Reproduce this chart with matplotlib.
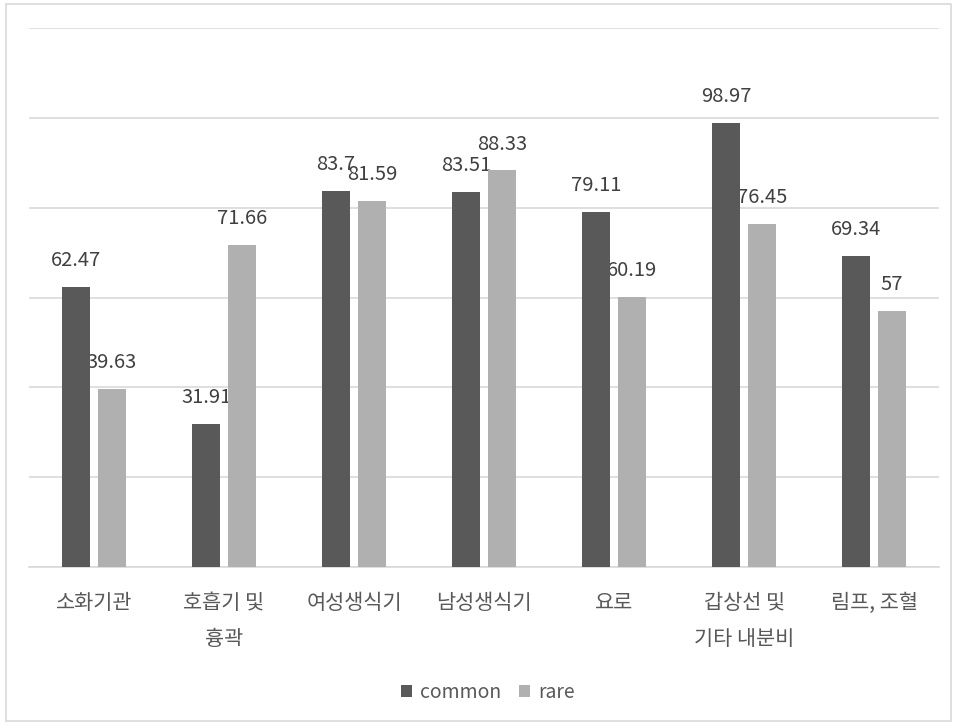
import matplotlib
matplotlib.use('Agg')
import matplotlib.pyplot as plt
from matplotlib.patches import Rectangle
import numpy as np

# data
categories = ['소화기관', '호흡기 및\n흉곽', '여성생식기', '남성생식기', '요로', '갑상선 및\n기타 내분비', '림프, 조혈']
common = [62.47, 31.91, 83.7, 83.51, 79.11, 98.97, 69.34]
rare = [39.63, 71.66, 81.59, 88.33, 60.19, 76.45, 57]
common_labels = ['62.47', '31.91', '83.7', '83.51', '79.11', '98.97', '69.34']
rare_labels = ['39.63', '71.66', '81.59', '88.33', '60.19', '76.45', '57']

plt.rcParams['font.family'] = ['Noto Sans CJK KR', 'DejaVu Sans']

dark = '#595959'
light = '#b0b0b0'
text_col = '#404040'
cat_col = '#595959'
grid_col = '#d9d9d9'

fig = plt.figure(figsize=(9.57, 7.25), dpi=100)
fig.patches.append(Rectangle((0.006, 0.006), 0.988, 0.988, transform=fig.transFigure,
                             fill=False, edgecolor='#d9d9d9', linewidth=1.2))
ax = fig.add_axes([0.0303, 0.218, 0.951, 0.743])

x = np.arange(len(categories))
w = 0.215
off = 0.138
ax.bar(x - off, common, w, color=dark, zorder=3, label='common')
ax.bar(x + off, rare, w, color=light, zorder=3, label='rare')

# value labels sit under the bars, like the original where they get clipped
for i in range(len(categories)):
    ax.annotate(common_labels[i], (x[i] - off, common[i]), xytext=(0, 15), textcoords='offset points',
                ha='center', va='baseline', fontsize=14.5, color=text_col, zorder=2)
    ax.annotate(rare_labels[i], (x[i] + off, rare[i]), xytext=(0, 15), textcoords='offset points',
                ha='center', va='baseline', fontsize=14.5, color=text_col, zorder=2)

ax.set_xlim(-0.5, len(categories) - 0.5)
ax.set_ylim(0, 120)
ax.set_yticks([0, 20, 40, 60, 80, 100, 120])
ax.yaxis.grid(True, color=grid_col, linewidth=1.2, zorder=0)
ax.tick_params(axis='y', left=False, labelleft=False)
ax.set_xticks(x)
ax.set_xticklabels(categories, fontsize=15, color=cat_col, linespacing=1.8)
ax.tick_params(axis='x', length=0, pad=18)
for s in ['top', 'right', 'left']:
    ax.spines[s].set_visible(False)
ax.spines['bottom'].set_color(grid_col)
ax.spines['bottom'].set_linewidth(1.2)

fig.legend(loc='center', bbox_to_anchor=(0.51, 0.045), ncol=2, frameon=False,
           fontsize=14, labelcolor=cat_col, handlelength=0.55, handleheight=0.55,
           handletextpad=0.45, columnspacing=0.9)

fig.savefig('out.png', dpi=100)
